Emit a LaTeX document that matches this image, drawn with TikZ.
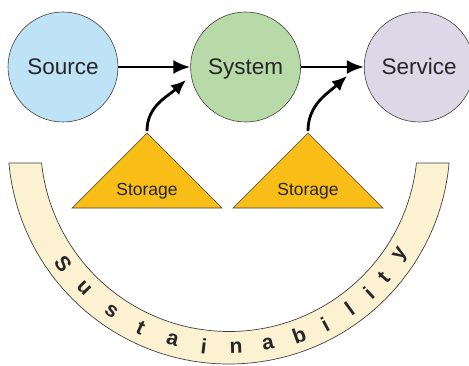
\documentclass[tikz,border=0pt]{standalone}
\usepackage{fontspec}
\setmainfont{Liberation Sans}
\usepackage{tikz}
\usetikzlibrary{positioning,calc,arrows.meta}

\definecolor{srcBlue}{HTML}{BEE3F6}
\definecolor{sysGreen}{HTML}{B8DAA8}
\definecolor{srvLilac}{HTML}{DDD7E7}
\definecolor{storeYellow}{HTML}{F8BE17}
\definecolor{bandCream}{HTML}{FCF2D2}
\definecolor{edgeGray}{HTML}{404040}

\begin{document}
\begin{tikzpicture}[x=1pt, y=1pt,
		stage/.style={circle, draw=edgeGray, line width=0.6pt, minimum size=110pt,
		inner sep=0pt, text height=18pt, text depth=2pt,
		font=\fontsize{22.5}{26}\selectfont, text=black!85},
		store/.style={draw=edgeGray, line width=0.6pt, fill=storeYellow},
		band/.style={draw=edgeGray, line width=0.7pt, fill=bandCream},
		flow/.style={-{Latex[length=17pt,width=14pt]}, line width=2.8pt},
		feed/.style={-{Latex[length=15pt,width=13pt]}, line width=2.8pt},
		letter/.style={font=\bfseries\fontsize{21}{24}\selectfont, text=black!85}]

		\useasboundingbox (0,0) rectangle (469,365);

		% sustainability band
		\coordinate (ctr) at (229,222);
		\draw[band] ($(ctr)+(185.2:221)$) arc[start angle=185.2, end angle=354.8, radius=221pt]
			-- ($(ctr)+(353.9:188.5)$) arc[start angle=353.9, end angle=186.1, radius=188.5pt] -- cycle;
		\foreach \ang/\ch in {216/S, 225/u, 235/s, 244.5/t, 254/a, 263/i, 272/n,
				281/a, 290/b, 298/i, 306/l, 313/i, 319/t, 327/y}{
			\node[letter, rotate=\ang+90] (ch-\ang) at ($(ctr)+(\ang:205)$) {\ch};
		}

		% source, system, service
		\node[stage, fill=srcBlue] (src) at (63,298) {Source};
		\node[stage, fill=sysGreen, right=72pt of src] (sys) {System};
		\node[stage, fill=srvLilac, right=63pt of sys] (srv) {Service};

		\draw[flow] (src) -- (sys);
		\draw[flow] (sys) -- (srv);

		% storages
		\coordinate (top1) at (147,232);
		\coordinate (top2) at (308,232);
		\foreach \t in {1,2}{
			\draw[store] (top\t) -- ++(-75,-75) -- ++(150,0) -- cycle;
			\node[font=\fontsize{17.5}{20}\selectfont, text=black!85] (st\t) at ($(top\t)+(0,-58)$) {Storage};
		}

		\coordinate (in1) at (186,285);
		\coordinate (in2) at (347,289);
		\draw[feed] ($(top1)+(0,2)$) to[out=90, in=222] (in1);
		\draw[feed] ($(top2)+(0,2)$) to[out=90, in=222] (in2);
	\end{tikzpicture}
\end{document}
